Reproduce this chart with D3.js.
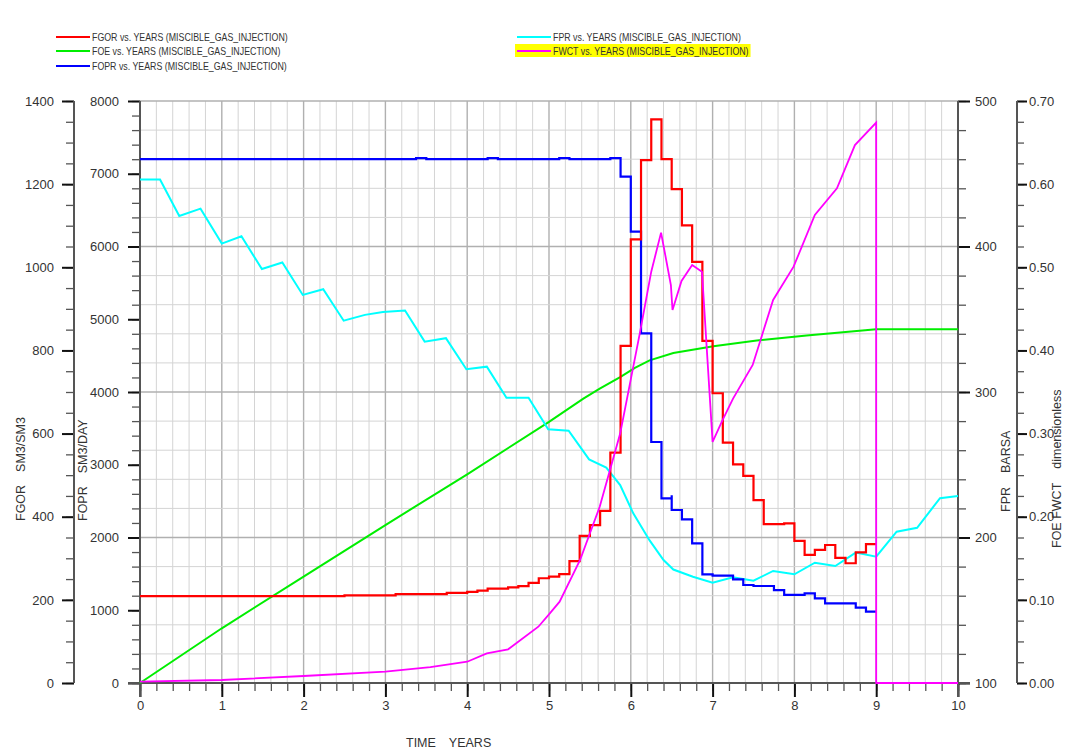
<!DOCTYPE html>
<html>
<head>
<meta charset="utf-8">
<script src="https://cdn.jsdelivr.net/npm/d3@7"></script>
<style>
  html, body { margin: 0; padding: 0; background: #fff; }
  svg { display: block; }
  .tick text { font-family: "Liberation Sans", Arial, sans-serif; font-size: 13px; fill: #333; }
  .title { font-family: "Liberation Sans", Arial, sans-serif; font-size: 12.5px; fill: #333; }
  .legend { font-family: "Liberation Sans", Arial, sans-serif; font-size: 10.2px; fill: #333; }
</style>
</head>
<body>
<svg id="chart" width="1066" height="756"></svg>
<script>
// ---- Simulation results: MISCIBLE_GAS_INJECTION case ----

// FGOR (SM3/SM3) - step values, each holds until the next time
const fgorTime  = [0, 2.5, 3.125, 3.75, 4.0, 4.125, 4.25, 4.5, 4.625, 4.75, 4.875, 5.0, 5.125, 5.25, 5.375, 5.5, 5.625, 5.75, 5.875, 6.0, 6.125, 6.25, 6.375, 6.5, 6.625, 6.75, 6.875, 7.0, 7.125, 7.25, 7.375, 7.5, 7.625, 7.875, 8.0, 8.125, 8.25, 8.375, 8.5, 8.625, 8.75, 8.875, 9.0];
const fgorValue = [209, 211, 214, 217, 219, 222, 227, 230, 233, 241, 252, 256, 262, 293, 354, 380, 414, 554, 811, 1067, 1258, 1356, 1260, 1188, 1101, 1013, 823, 697, 578, 526, 498, 440, 382, 384, 342, 308, 320, 332, 301, 288, 314, 334, 334];

// FOPR (SM3/DAY) - step values
const foprTime  = [0, 3.375, 3.5, 4.25, 4.375, 5.125, 5.25, 5.75, 5.875, 6.0, 6.125, 6.25, 6.375, 6.5, 6.5, 6.625, 6.75, 6.875, 7.0, 7.25, 7.375, 7.5, 7.75, 7.875, 8.125, 8.25, 8.375, 8.75, 8.875, 9.0];
const foprValue = [7200, 7215, 7200, 7215, 7200, 7215, 7200, 7215, 6960, 6204, 4807, 3313, 2539, 2580, 2378, 2250, 1920, 1494, 1475, 1425, 1347, 1333, 1278, 1210, 1233, 1164, 1095, 1035, 980, 980];

// FPR (BARSA)
const fprTime  = [0, 0.245, 0.48, 0.74, 1.0, 1.24, 1.49, 1.74, 1.99, 2.24, 2.49, 2.75, 2.97, 3.24, 3.48, 3.74, 3.99, 4.24, 4.48, 4.75, 4.99, 5.24, 5.49, 5.7, 5.87, 6.03, 6.23, 6.4, 6.52, 6.76, 7.0, 7.25, 7.5, 7.74, 8.0, 8.25, 8.5, 8.75, 9.0, 9.25, 9.5, 9.78, 10.0];
const fprValue = [446, 446, 421, 426, 402, 407, 384.5, 389, 366.7, 370.6, 349, 353, 355, 356, 334.6, 337, 315.6, 317.4, 296, 296, 274.4, 273.4, 253.7, 248, 236, 216.6, 198, 184.5, 178, 173, 169, 172.6, 170.3, 177, 174.7, 182.7, 180.4, 189.6, 186.8, 204, 206.7, 227, 228.5];

// FOE (dimensionless)
const foeTime  = [0, 1, 2, 3, 4, 5, 5.42, 5.62, 5.87, 6.05, 6.23, 6.52, 7.01, 7.54, 8.15, 9.0, 10.0];
const foeValue = [0, 0.0658, 0.128, 0.190, 0.251, 0.314, 0.342, 0.354, 0.368, 0.379, 0.388, 0.397, 0.405, 0.412, 0.418, 0.4254, 0.4254];

// FWCT (dimensionless)
const fwctTime  = [0, 1.0, 2.0, 3.0, 3.55, 4.0, 4.24, 4.5, 4.87, 5.01, 5.13, 5.38, 5.62, 5.87, 6.11, 6.25, 6.37, 6.49, 6.51, 6.62, 6.75, 6.87, 7.0, 7.12, 7.25, 7.49, 7.74, 7.99, 8.25, 8.52, 8.74, 9.0, 9.0, 10.0];
const fwctValue = [0.0016, 0.0036, 0.0084, 0.0136, 0.019, 0.0256, 0.0357, 0.0405, 0.0677, 0.0838, 0.0978, 0.148, 0.212, 0.300, 0.4206, 0.4947, 0.5417, 0.4787, 0.4487, 0.4835, 0.5028, 0.4947, 0.290, 0.316, 0.342, 0.3825, 0.4607, 0.5007, 0.563, 0.595, 0.647, 0.674, 0, 0];

// Axis tick values
const yearTicks  = [0, 1, 2, 3, 4, 5, 6, 7, 8, 9, 10];
const fgorTicks  = [0, 200, 400, 600, 800, 1000, 1200, 1400];
const foprTicks  = [0, 1000, 2000, 3000, 4000, 5000, 6000, 7000, 8000];
const fprTicks   = [100, 200, 300, 400, 500];
const fracTicks  = [0, 0.1, 0.2, 0.3, 0.4, 0.5, 0.6, 0.7];

const seriesColors = { FGOR: "#ff0000", FOE: "#00ee00", FOPR: "#0000ff", FPR: "#00ffff", FWCT: "#ff00ff" };
const caseName = "MISCIBLE_GAS_INJECTION";

// ---- Layout ----
const svg = d3.select("#chart");
const plotLeft = 140, plotRight = 958, plotTop = 101, plotBottom = 683;

const x = d3.scaleLinear().domain([0, 10]).range([plotLeft, plotRight]);
const yFgor = d3.scaleLinear().domain([0, 1400]).range([plotBottom, plotTop]);
const yFopr = d3.scaleLinear().domain([0, 8000]).range([plotBottom, plotTop]);
const yFpr  = d3.scaleLinear().domain([100, 500]).range([plotBottom, plotTop]);
const yFrac = d3.scaleLinear().domain([0, 0.7]).range([plotBottom, plotTop]);

// evenly spaced minor tick positions
const steps = (a, b, s) => d3.range(Math.round((b - a) / s) + 1).map(i => +(a + i * s).toFixed(6));

// ---- Grid ----
const grid = svg.append("g");
steps(0, 10, 0.2).forEach(t => {
  const major = Math.abs(t - Math.round(t)) < 1e-6;
  grid.append("line")
    .attr("x1", x(t)).attr("x2", x(t)).attr("y1", plotTop).attr("y2", plotBottom)
    .attr("stroke", major ? "#b0b0b0" : "#d4d4d4").attr("stroke-width", major ? 1.4 : 1);
});
steps(100, 500, 20).forEach(v => {
  const major = v % 100 === 0;
  grid.append("line")
    .attr("x1", plotLeft).attr("x2", plotRight).attr("y1", yFpr(v)).attr("y2", yFpr(v))
    .attr("stroke", major ? "#b0b0b0" : "#d4d4d4").attr("stroke-width", major ? 1.4 : 1);
});

// ---- Axes ----
function drawAxis(axisFn, scale, transform, majors, minors, majorLen, minorLen, pad, fmt) {
  const g = svg.append("g").attr("transform", transform);
  g.append("g").call(axisFn(scale).tickValues(minors).tickSize(minorLen).tickFormat(""))
    .call(s => s.select(".domain").remove())
    .call(s => s.selectAll("line").attr("stroke", "#555").attr("stroke-width", 1.3));
  g.append("g").call(axisFn(scale).tickValues(majors).tickSize(majorLen).tickPadding(pad).tickFormat(fmt))
    .call(s => s.select(".domain").remove())
    .call(s => s.selectAll("line").attr("stroke", "#111").attr("stroke-width", 2));
  g.selectAll("text").attr("fill", "#333");
  return g;
}

drawAxis(d3.axisLeft, yFgor, "translate(74,0)", fgorTicks, steps(0, 1400, 50), 12, 8, 8, d3.format("d"));
drawAxis(d3.axisLeft, yFopr, `translate(${plotLeft},0)`, foprTicks, steps(0, 8000, 200), 12, 8, 9, d3.format("d"));
drawAxis(d3.axisRight, yFpr, `translate(${plotRight},0)`, fprTicks, steps(100, 500, 20), 12, 8, 5, d3.format("d"));
drawAxis(d3.axisRight, yFrac, "translate(1017,0)", fracTicks, steps(0, 0.7, 0.025), 10, 7, 2, d3.format(".2f"));
drawAxis(d3.axisBottom, x, `translate(0,${plotBottom})`, yearTicks, steps(0, 10, 0.2), 14, 8, 4, d3.format("d"));

// axis spines
const spine = (x1, y1, x2, y2) => svg.append("line")
  .attr("x1", x1).attr("y1", y1).attr("x2", x2).attr("y2", y2)
  .attr("stroke", "#555").attr("stroke-width", 2);
spine(74, plotTop, 74, plotBottom);
spine(plotLeft, plotTop, plotLeft, plotBottom + 14);
spine(plotRight, plotTop, plotRight, plotBottom + 14);
spine(1017, plotTop, 1017, plotBottom);
spine(128, plotBottom, 970, plotBottom);

// ---- Axis titles ----
function vTitle(xp, yp, a, b, gap) {
  const t = svg.append("text").attr("class", "title")
    .attr("transform", `translate(${xp},${yp}) rotate(-90)`);
  t.append("tspan").text(a);
  t.append("tspan").attr("dx", gap).text(b);
}
vTitle(25, 521, "FGOR", "SM3/SM3", 13);
vTitle(87, 521, "FOPR", "SM3/DAY", 13);
vTitle(1010, 512, "FPR", "BARSA", 14);
vTitle(1061, 548, "FOE FWCT", "dimensionless", 14);

const xt = svg.append("text").attr("class", "title").attr("x", 406).attr("y", 747);
xt.append("tspan").text("TIME");
xt.append("tspan").attr("dx", 13).text("YEARS");

// ---- Series ----
const pairs = (ts, vs) => ts.map((t, i) => [t, vs[i]]);
const plot = svg.append("g");

function drawSeries(data, yScale, color, curve, width) {
  plot.append("path")
    .datum(data)
    .attr("fill", "none")
    .attr("stroke", color)
    .attr("stroke-width", width)
    .attr("stroke-linejoin", "miter")
    .attr("d", d3.line().x(d => x(d[0])).y(d => yScale(d[1])).curve(curve));
}

drawSeries(pairs(foeTime, foeValue), yFrac, seriesColors.FOE, d3.curveLinear, 2);
drawSeries(pairs(fprTime, fprValue), yFpr, seriesColors.FPR, d3.curveLinear, 2);
drawSeries(pairs(foprTime, foprValue), yFopr, seriesColors.FOPR, d3.curveStepAfter, 2.2);
drawSeries(pairs(fgorTime, fgorValue), yFgor, seriesColors.FGOR, d3.curveStepAfter, 2.2);
drawSeries(pairs(fwctTime, fwctValue), yFrac, seriesColors.FWCT, d3.curveLinear, 1.8);

// ---- Legend ----
const legendItems = [
  { name: "FGOR", x: 56, y: 37 },
  { name: "FOE",  x: 56, y: 51 },
  { name: "FOPR", x: 56, y: 66 },
  { name: "FPR",  x: 517, y: 37 },
  { name: "FWCT", x: 517, y: 51, highlight: true }
];
const legend = svg.append("g");
legendItems.forEach(it => {
  const g = legend.append("g");
  const label = `${it.name} vs. YEARS (${caseName})`;
  const hl = it.highlight ? g.append("rect").attr("fill", "#ffff00") : null;
  g.append("line").attr("x1", it.x).attr("x2", it.x + 34).attr("y1", it.y).attr("y2", it.y)
    .attr("stroke", seriesColors[it.name]).attr("stroke-width", 2.2);
  const txt = g.append("text").attr("class", "legend").attr("x", it.x + 36).attr("y", it.y + 3.5).text(label);
  // condensed lettering
  const w = txt.node().getComputedTextLength() * 0.865;
  txt.attr("textLength", w).attr("lengthAdjust", "spacingAndGlyphs");
  if (hl) hl.attr("x", it.x - 2).attr("y", it.y - 7).attr("width", w + 40).attr("height", 13);
});
</script>
</body>
</html>
